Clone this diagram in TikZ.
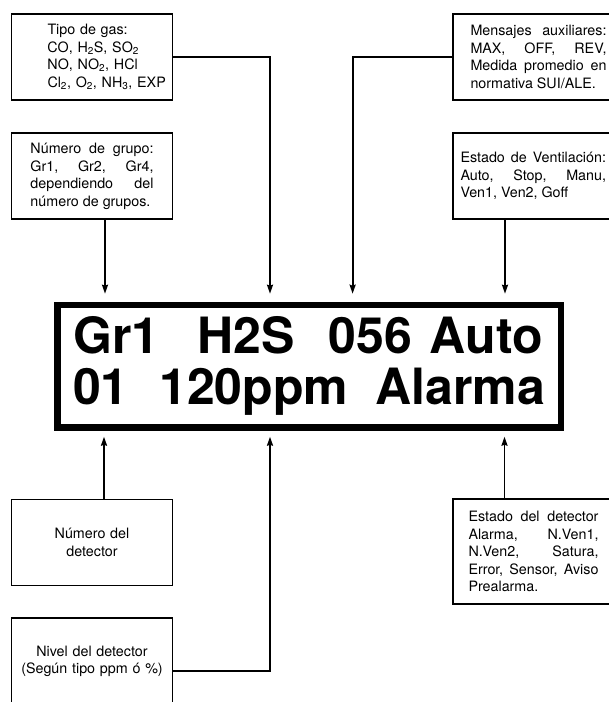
\documentclass[tikz,border=0pt]{standalone}
\usepackage{fontspec}
\setmainfont{TeX Gyre Heros}
\usetikzlibrary{positioning, arrows.meta}
\setlength{\parindent}{0pt}
\hbadness=10000
\newcommand{\inset}[3]{\leftskip=#1\rightskip=#2\relax #3\par}

\begin{document}
\begin{tikzpicture}[x=1pt, y=-1pt,
  node distance=31.5pt,
  infobox/.style={rectangle, draw, line width=1.8pt, inner sep=0pt,
                  text width=161pt, minimum height=86pt,
                  font=\fontsize{14.3}{17.5}\selectfont},
  lcd/.style={rectangle, draw, line width=6.5pt, inner sep=0pt,
              minimum width=503.5pt, minimum height=122.5pt, align=left,
              font=\fontsize{50}{50.7}\selectfont\bfseries},
  arr/.style={line width=1.8pt, -{Stealth[length=9pt, width=6pt, inset=1pt]},
              shorten >=8pt}
]
  \useasboundingbox (0,0) rectangle (609,702);
  \clip (0,0) rectangle (609,702);

  \node[lcd] (display) at (309,366.2)
    {Gr1\hspace{38pt}H2S\hspace{34pt}056\hspace{18pt}Auto\\
     01\hspace{30.6pt}120ppm\hspace{27pt}Alarma};

  % boxes above the display
  \node[infobox, align=left] (gas) at (92,57)
    {\inset{36pt}{0pt plus 2em}{Tipo de gas:\\
     CO, H\textsubscript{2}S, SO\textsubscript{2}\\
     NO, NO\textsubscript{2}, HCl\\
     Cl\textsubscript{2}, O\textsubscript{2}, NH\textsubscript{3}, EXP}};
  \node[infobox, align=justify] (aux) at (533.5,57)
    {\inset{17.5pt}{7.5pt}{Mensajes auxiliares:\linebreak
     MAX, OFF, REV,\linebreak Medida promedio en\linebreak
     normativa SUI/ALE.}};
  \node[infobox, align=justify, below=of gas] (grupo)
    {\inset{19pt}{19pt}{Número de grupo:\linebreak
     Gr1, Gr2, Gr4,\linebreak dependiendo del\linebreak
     número de grupos.}};
  \node[infobox, align=justify, below=of aux] (vent)
    {\inset{7.5pt}{8pt}{Estado de Ventilación:\linebreak
     Auto, Stop, Manu,\linebreak Ven1, Ven2, Goff}};

  % boxes below the display
  \node[infobox, align=center] (num) at (92,542.5) {Número del\\detector};
  \node[infobox, align=center, below=30.8pt of num] (nivel)
    {Nivel del detector\\(Según tipo ppm ó \%)};
  \node[infobox, align=justify, minimum height=105pt] (estado) at (533.5,551.8)
    {\inset{15.5pt}{15.5pt}{Estado del detector\linebreak
     Alarma, N.Ven1,\linebreak N.Ven2, Satura,\linebreak
     Error, Sensor, Aviso\linebreak Prealarma.}};

  % connectors
  \draw[arr] (gas.east) -| ([xshift=-39pt]display.north);
  \draw[arr] (aux.west) -| ([xshift=43.6pt]display.north);
  \draw[arr] ([xshift=13pt]grupo.south) -- ([xshift=13pt]grupo.south |- display.north);
  \draw[arr] ([xshift=-28.5pt]vent.south) -- ([xshift=-28.5pt]vent.south |- display.north);
  \draw[arr, shorten >=6pt] ([xshift=12pt]num.north) -- ([xshift=12pt]num.north |- display.south);
  \draw[arr, shorten >=6pt] ([yshift=-9.5pt]nivel.east) -| ([xshift=-39pt]display.south);
  \draw[arr, shorten >=6pt] ([xshift=-29pt]estado.north) -- ([xshift=-29pt]estado.north |- display.south);
\end{tikzpicture}
\end{document}
